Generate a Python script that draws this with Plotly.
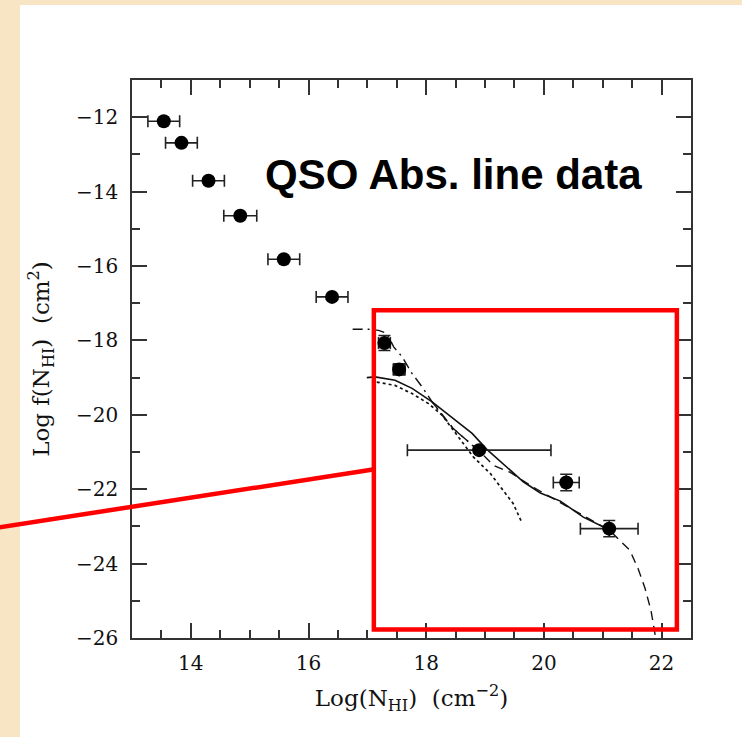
import plotly.graph_objects as go

# ---------------- data ----------------
log_nhi = [13.54, 13.84, 14.30, 14.84, 15.58, 16.40, 17.29, 17.54, 18.90, 20.38, 21.11]
log_f = [-12.11, -12.69, -13.71, -14.65, -15.82, -16.83, -18.07, -18.78, -20.95, -21.82, -23.06]
xerr = [0.27, 0.27, 0.27, 0.28, 0.27, 0.27, 0.10, 0.10, 1.22, 0.22, 0.49]
yerr = [0.0, 0.0, 0.0, 0.0, 0.0, 0.0, 0.20, 0.15, 0.0, 0.22, 0.22]

solid_x = [16.99, 17.13, 17.47, 17.76, 18.10, 18.44, 18.78, 19.03, 19.37, 19.65, 19.94, 20.28, 20.67, 21.01, 21.16]
solid_y = [-19.00, -18.98, -19.07, -19.29, -19.65, -20.08, -20.50, -20.93, -21.40, -21.80, -22.10, -22.32, -22.75, -23.02, -23.13]

dotted_x = [17.16, 17.47, 17.76, 18.04, 18.27, 18.46, 18.80, 19.09, 19.31, 19.48, 19.62]
dotted_y = [-19.12, -19.21, -19.43, -19.70, -20.01, -20.42, -21.13, -21.58, -22.03, -22.39, -22.88]

dashdot_x = [16.75, 17.02, 17.19, 17.33, 17.45, 17.59, 17.76, 17.93, 18.10, 18.27, 18.46, 18.69, 18.92]
dashdot_y = [-17.70, -17.70, -17.73, -17.81, -18.18, -18.44, -18.89, -19.25, -19.65, -20.01, -20.37, -20.69, -21.01]

dashed_x = [18.10, 18.46, 18.92, 19.14, 19.43, 19.77, 20.21, 20.56, 20.84, 21.12, 21.29, 21.46, 21.60, 21.72, 21.82, 21.90]
dashed_y = [-19.65, -20.37, -21.00, -21.36, -21.55, -21.90, -22.30, -22.61, -22.84, -23.11, -23.38, -23.64, -24.13, -24.67, -25.26, -26.00]

x_ticks = [14, 16, 18, 20, 22]
y_ticks = [-26, -24, -22, -20, -18, -16, -14, -12]

label_text = "QSO Abs. line data"

# ---------------- layout geometry ----------------
W, H = 742, 737
L, R, T, B = 132, 51, 80, 99
PW, PH = W - L - R, H - T - B


def px(xp):
    return (xp - L) / PW


def py(yp):
    return (H - B - yp) / PH


fig = go.Figure()

line_col = "#111111"
fig.add_trace(go.Scatter(x=dotted_x, y=dotted_y, mode="lines",
                         line=dict(color=line_col, width=1.7, dash="dot"), showlegend=False))
fig.add_trace(go.Scatter(x=dashdot_x, y=dashdot_y, mode="lines",
                         line=dict(color=line_col, width=1.4, dash="10px,5px,2px,5px"), showlegend=False))
fig.add_trace(go.Scatter(x=dashed_x, y=dashed_y, mode="lines",
                         line=dict(color=line_col, width=1.4, dash="9px,6px"), showlegend=False))
fig.add_trace(go.Scatter(x=solid_x, y=solid_y, mode="lines",
                         line=dict(color=line_col, width=1.6), showlegend=False))

fig.add_trace(go.Scatter(
    x=log_nhi, y=log_f, mode="markers",
    marker=dict(size=14, color="black"),
    error_x=dict(type="data", array=xerr, color="#222", thickness=1.6, width=6),
    error_y=dict(type="data", array=yerr, color="#222", thickness=1.6, width=6),
    showlegend=False))

axis_common = dict(
    showline=True, mirror="ticks", linecolor="#333", linewidth=1.5,
    ticks="inside", ticklen=15, tickwidth=1.5, tickcolor="#333",
    showgrid=False, zeroline=False,
    tickfont=dict(family="DejaVu Serif", size=20, color="#111"),
)

fig.update_xaxes(range=[13, 22.5], tickvals=x_ticks, ticklabelstandoff=6,
                 minor=dict(ticks="inside", dtick=0.5, tick0=13, ticklen=8, tickwidth=1.5, tickcolor="#333"),
                 title=dict(text="Log(N<sub>HI</sub>) \u00a0(cm<sup>\u22122</sup>)",
                            font=dict(family="DejaVu Serif", size=23, color="#111"), standoff=16),
                 **axis_common)
fig.update_yaxes(range=[-26, -11], tickvals=y_ticks, ticklabelstandoff=8,
                 minor=dict(ticks="inside", dtick=1, tick0=-26, ticklen=8, tickwidth=1.5, tickcolor="#333"),
                 title=dict(text="Log f(N<sub>HI</sub>) \u00a0(cm<sup>2</sup>)",
                            font=dict(family="DejaVu Serif", size=23, color="#111"), standoff=20),
                 **axis_common)

shapes = [
    # white panel on the parchment background
    dict(type="rect", xref="paper", yref="paper", x0=px(20), x1=px(W + 5), y0=py(H + 5), y1=py(5),
         fillcolor="white", line=dict(width=0), layer="below"),
    # red highlight box
    dict(type="rect", xref="x", yref="y", x0=17.11, x1=22.26, y0=-25.77, y1=-17.19,
         line=dict(color="#ff0000", width=4.5), layer="above"),
    # red pointer line
    dict(type="line", xref="paper", yref="paper", x0=px(-2), y0=py(527.5), x1=px(373), y1=py(469.5),
         line=dict(color="#ff0000", width=4.5), layer="above"),
]

fig.update_layout(
    width=W, height=H,
    margin=dict(l=L, r=R, t=T, b=B),
    paper_bgcolor="#f7e5c3",
    plot_bgcolor="white",
    shapes=shapes,
    annotations=[dict(x=18.47, y=-13.55, xref="x", yref="y", text="<b>" + label_text + "</b>",
                      showarrow=False, font=dict(family="Liberation Sans", size=42, color="black"),
                      xanchor="center", yanchor="middle")],
)

fig.write_html("out.html")
